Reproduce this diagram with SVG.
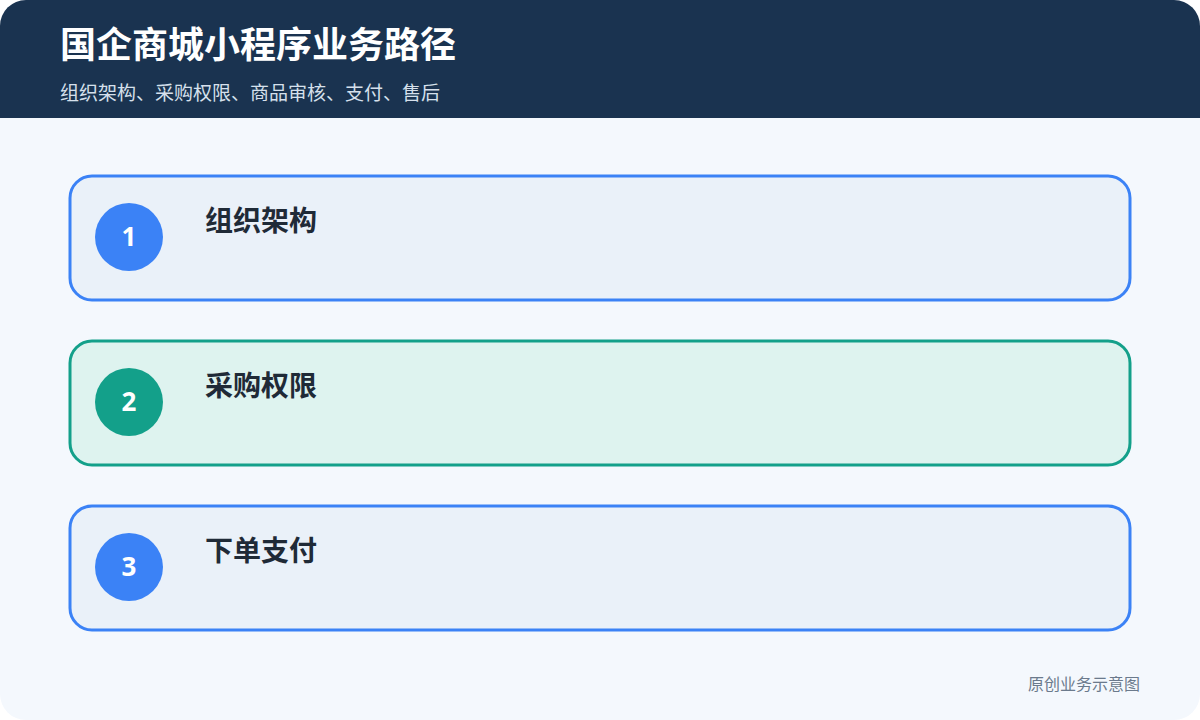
<svg xmlns="http://www.w3.org/2000/svg" width="1200" height="720" viewBox="0 0 1200 720">
<defs>
<style>
.t{font-family:"Noto Sans CJK SC","Noto Sans",sans-serif}
.card{stroke-width:3}
.blue{fill:#eaf1f9;stroke:#3b82f6}
.green{fill:#def3ef;stroke:#13a08a}
.num{font-family:"Noto Sans","Liberation Sans",sans-serif;font-weight:700;font-size:26px;fill:#ffffff;text-anchor:middle}
.lbl{font-weight:700;font-size:28px;fill:#1f2a37}
</style>
<clipPath id="pg"><rect x="0" y="0" width="1200" height="720" rx="26"/></clipPath>
</defs>
<rect width="1200" height="720" fill="#ffffff"/>
<g clip-path="url(#pg)">
<rect width="1200" height="720" fill="#f4f8fd"/>
<rect width="1200" height="118" fill="#1a3350"/>
</g>
<text class="t" x="60" y="58" font-size="36" font-weight="700" fill="#ffffff">国企商城小程序业务路径</text>
<text class="t" x="60" y="100" font-size="19" fill="#d6e0ec">组织架构、采购权限、商品审核、支付、售后</text>
<g id="connectors"></g>
<g id="node1">
<rect class="card blue" x="70" y="176" width="1060" height="124" rx="22"/>
<circle cx="129" cy="237" r="34" fill="#3b82f6"/>
<text class="num" x="129" y="246">1</text>
<text class="t lbl" x="205" y="231">组织架构</text>
</g>
<g id="node2">
<rect class="card green" x="70" y="341" width="1060" height="124" rx="22"/>
<circle cx="129" cy="402" r="34" fill="#13a08a"/>
<text class="num" x="129" y="411">2</text>
<text class="t lbl" x="205" y="396">采购权限</text>
</g>
<g id="node3">
<rect class="card blue" x="70" y="506" width="1060" height="124" rx="22"/>
<circle cx="129" cy="567" r="34" fill="#3b82f6"/>
<text class="num" x="129" y="576">3</text>
<text class="t lbl" x="205" y="561">下单支付</text>
</g>
<text class="t" x="1140" y="690" font-size="16" fill="#6b7a8c" text-anchor="end">原创业务示意图</text>
</svg>
